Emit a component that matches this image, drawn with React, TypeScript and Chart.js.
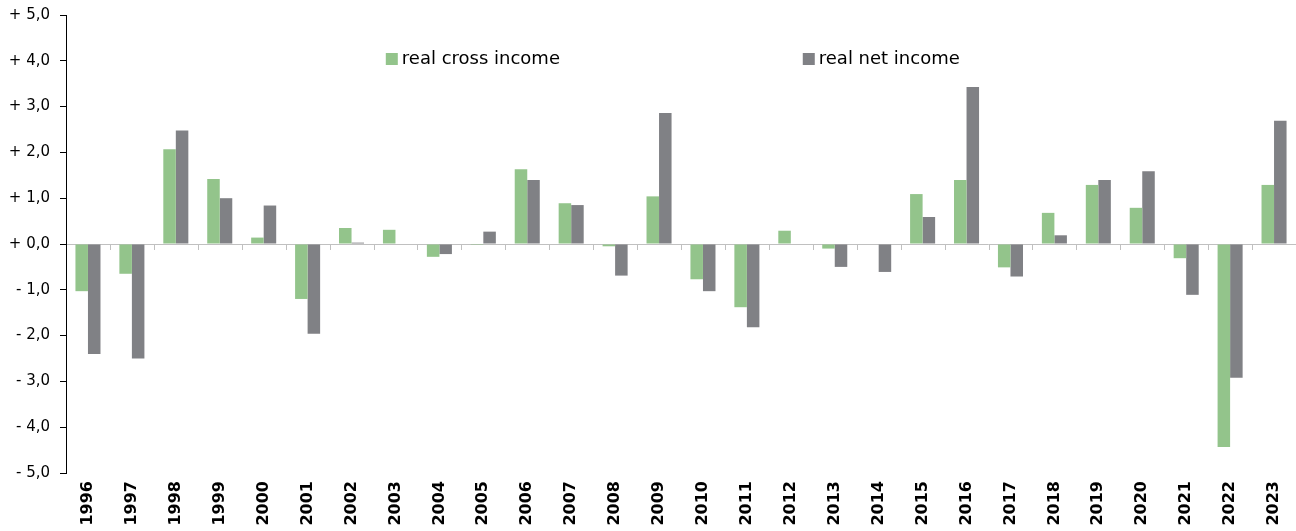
import React, { useEffect, useRef } from "react";
import { Chart, registerables } from "chart.js";

Chart.register(...registerables);

const years: string[] = [
  "1996", "1997", "1998", "1999", "2000", "2001", "2002", "2003", "2004", "2005",
  "2006", "2007", "2008", "2009", "2010", "2011", "2012", "2013", "2014", "2015",
  "2016", "2017", "2018", "2019", "2020", "2021", "2022", "2023",
];

const realGrossIncome: number[] = [
  -1.03, -0.65, 2.07, 1.42, 0.14, -1.2, 0.35, 0.31, -0.28, -0.02,
  1.63, 0.89, -0.05, 1.04, -0.77, -1.38, 0.29, -0.1, 0.0, 1.09,
  1.4, -0.51, 0.68, 1.29, 0.79, -0.31, -4.43, 1.29,
];

const realNetIncome: number[] = [
  -2.4, -2.5, 2.48, 1.0, 0.84, -1.96, 0.03, 0.0, -0.22, 0.27,
  1.4, 0.85, -0.69, 2.86, -1.03, -1.82, 0.0, -0.5, -0.61, 0.59,
  3.43, -0.71, 0.19, 1.4, 1.59, -1.11, -2.92, 2.69,
];

const seriesLabels: string[] = ["real cross income", "real net income"];
const seriesColors: string[] = ["#93c48b", "#808185"];

const yMin = -5;
const yMax = 5;
const yStep = 1;

const FONT = "'DejaVu Sans', sans-serif";

const customLegend = {
  id: "customLegend",
  afterDraw(chart: any, _args: any, opts: any) {
    const { ctx, chartArea } = chart;
    const w = chartArea.right - chartArea.left;
    ctx.save();
    ctx.font = `${opts.fontSize}px ${FONT}`;
    ctx.textBaseline = "middle";
    ctx.textAlign = "left";
    chart.data.datasets.forEach((ds: any, i: number) => {
      const x = chartArea.left + opts.xFrac[i] * w;
      const y = opts.y;
      ctx.fillStyle = ds.backgroundColor;
      ctx.fillRect(x, y - 6, 12, 12);
      ctx.fillStyle = "#000";
      ctx.fillText(ds.label, x + 16, y);
    });
    ctx.restore();
  },
};

const zeroTicks = {
  id: "zeroTicks",
  afterDatasetsDraw(chart: any) {
    const { ctx, scales } = chart;
    const xs = scales.x;
    const y0 = scales.y.getPixelForValue(0);
    ctx.save();
    ctx.strokeStyle = "#c0c0c0";
    ctx.lineWidth = 1;
    ctx.beginPath();
    for (let i = 1; i < years.length; i++) {
      const x = Math.round((xs.getPixelForValue(i - 1) + xs.getPixelForValue(i)) / 2) + 0.5;
      ctx.moveTo(x, y0);
      ctx.lineTo(x, y0 + 6);
    }
    ctx.stroke();
    ctx.restore();
  },
};

export default function App() {
  const ref = useRef<HTMLCanvasElement | null>(null);

  useEffect(() => {
    document.body.style.margin = "0";
    const canvas = ref.current;
    if (!canvas) return;
    const chart = new Chart(canvas, {
      type: "bar",
      data: {
        labels: years,
        datasets: [
          {
            label: seriesLabels[0],
            data: realGrossIncome,
            backgroundColor: seriesColors[0],
            categoryPercentage: 0.57,
            barPercentage: 1,
          },
          {
            label: seriesLabels[1],
            data: realNetIncome,
            backgroundColor: seriesColors[1],
            categoryPercentage: 0.57,
            barPercentage: 1,
          },
        ],
      },
      options: {
        animation: false,
        responsive: false,
        maintainAspectRatio: false,
        layout: { padding: { top: 15, right: 0, left: 0, bottom: 0 } },
        plugins: {
          legend: { display: false },
          tooltip: { enabled: false },
          customLegend: { xFrac: [0.26, 0.599], y: 59, fontSize: 18 },
        } as any,
        scales: {
          x: {
            offset: true,
            grid: { display: false, drawTicks: false },
            border: { display: false },
            ticks: {
              maxRotation: 90,
              minRotation: 90,
              padding: 8,
              color: "#000",
              font: { family: FONT, size: 16, weight: "bold" },
            },
            afterFit(scale: any) {
              scale.height = 58;
              scale.paddingLeft = 0;
              scale.paddingRight = 0;
            },
          },
          y: {
            min: yMin,
            max: yMax,
            ticks: {
              stepSize: yStep,
              color: "#000",
              padding: 10,
              font: { family: FONT, size: 15 },
              callback: (v: any) => {
                const n = Number(v);
                const s = Math.abs(n).toFixed(1).replace(".", ",");
                return (n < 0 ? "- " : "+ ") + s;
              },
            },
            grid: {
              drawOnChartArea: true,
              color: (c: any) => (c.tick && c.tick.value === 0 ? "#c0c0c0" : "rgba(0,0,0,0)"),
              tickColor: "#000",
              tickLength: 6,
            },
            border: { display: true, color: "#000" },
            afterFit(scale: any) {
              scale.width = 66;
              scale.paddingTop = 0;
              scale.paddingBottom = 0;
            },
          },
        },
      },
      plugins: [customLegend, zeroTicks],
    });
    return () => chart.destroy();
  }, []);

  return (
    <div style={{ width: 1296, height: 531 }}>
      <canvas ref={ref} width={1296} height={531} style={{ display: "block" }} />
    </div>
  );
}
